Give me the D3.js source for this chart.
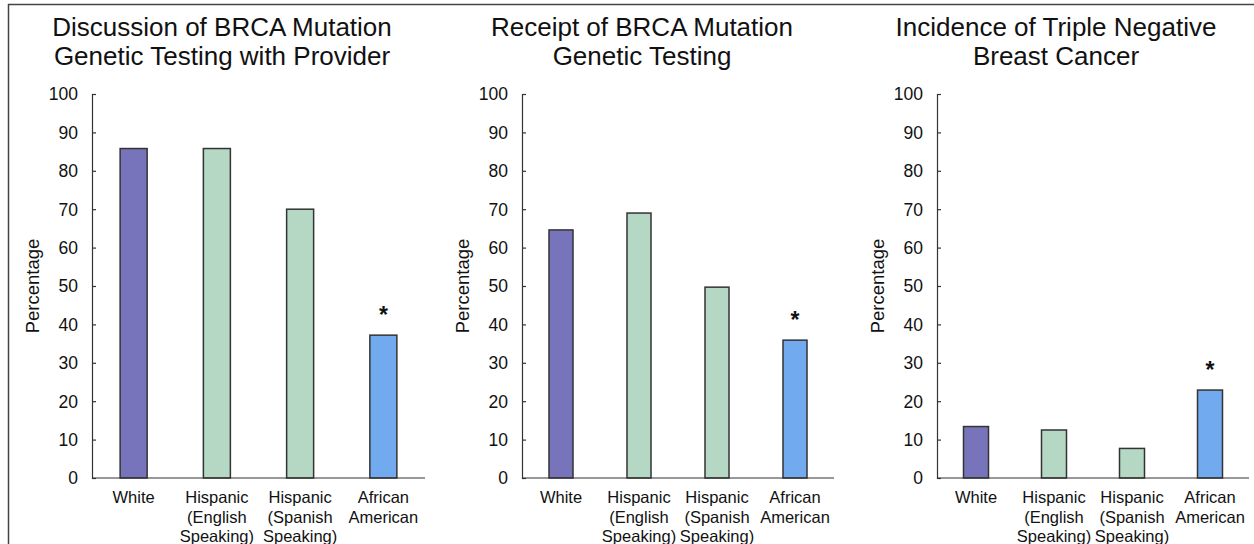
<!DOCTYPE html>
<html>
<head>
<meta charset="utf-8">
<script src="https://cdnjs.cloudflare.com/ajax/libs/d3/7.8.5/d3.min.js"></script>
<style>
  body { margin: 0; background: #fff; }
  svg { display: block; font-family: "Liberation Sans", Arial, sans-serif; }
</style>
</head>
<body>
<svg id="chart" width="1254" height="544"></svg>
<script>
// Data
const groups = ["White", "Hispanic (English Speaking)", "Hispanic (Spanish Speaking)", "African American"];
const groupLines = [["White"], ["Hispanic", "(English", "Speaking)"], ["Hispanic", "(Spanish", "Speaking)"], ["African", "American"]];
const titles = [
  ["Discussion of BRCA Mutation", "Genetic Testing with Provider"],
  ["Receipt of BRCA Mutation", "Genetic Testing"],
  ["Incidence of Triple Negative", "Breast Cancer"]
];
const discussionValues = [85.8, 85.8, 70.0, 37.2];
const receiptValues = [64.6, 69.0, 49.7, 35.9];
const tnbcValues = [13.4, 12.5, 7.7, 22.9];
const significant = [false, false, false, true];
const yTicks = [0, 10, 20, 30, 40, 50, 60, 70, 80, 90, 100];
const colors = ["#7774bb", "#b4d8c4", "#b4d8c4", "#71aaef"];

const panels = [
  { values: discussionValues, x0: 92, x1: 425, barW: 27, titleX: 222 },
  { values: receiptValues, x0: 522, x1: 834, barW: 24, titleX: 642 },
  { values: tnbcValues, x0: 937, x1: 1249, barW: 25, titleX: 1056 }
];

const svg = d3.select("#chart");
const yTop = 94, yBottom = 478;

// frame lines (top and left only, as in the cropped picture)
svg.append("line").attr("x1", 8).attr("x2", 1254).attr("y1", 4.5).attr("y2", 4.5)
  .attr("stroke", "#444").attr("stroke-width", 1.5);
svg.append("line").attr("x1", 8.5).attr("x2", 8.5).attr("y1", 4).attr("y2", 544)
  .attr("stroke", "#444").attr("stroke-width", 1.5);

const y = d3.scaleLinear().domain([0, 100]).range([yBottom, yTop]);

panels.forEach((p, i) => {
  const g = svg.append("g");
  const x = d3.scaleBand().domain(groups).range([p.x0, p.x1]);

  // title
  g.append("text")
    .attr("y", 36)
    .attr("text-anchor", "middle")
    .attr("font-size", 26)
    .attr("fill", "#111")
    .selectAll("tspan")
    .data(titles[i])
    .enter()
    .append("tspan")
    .attr("x", p.titleX)
    .attr("dy", (d, j) => (j === 0 ? 0 : 29))
    .text((d) => d);

  // y axis
  const yAxis = d3.axisRight(y).tickValues(yTicks).tickSize(4).tickFormat("");
  const ya = g.append("g").attr("transform", `translate(${p.x0},0)`).call(yAxis);
  ya.select(".domain").attr("stroke", "#333").attr("stroke-width", 1.2);
  ya.selectAll(".tick line").attr("stroke", "#333").attr("stroke-width", 1.2);

  g.selectAll(".ylabel")
    .data(yTicks)
    .enter()
    .append("text")
    .attr("x", p.x0 - 14)
    .attr("y", (d) => y(d))
    .attr("dy", "0.36em")
    .attr("text-anchor", "end")
    .attr("font-size", 17.5)
    .attr("fill", "#111")
    .text((d) => d);

  g.append("text")
    .attr("transform", `translate(${p.x0 - 53},${(yTop + yBottom) / 2}) rotate(-90)`)
    .attr("text-anchor", "middle")
    .attr("font-size", 18.5)
    .attr("fill", "#111")
    .text("Percentage");

  // bars
  g.selectAll(".bar")
    .data(p.values)
    .enter()
    .append("rect")
    .attr("x", (d, j) => x(groups[j]) + x.bandwidth() / 2 - p.barW / 2)
    .attr("y", (d) => y(d))
    .attr("width", p.barW)
    .attr("height", (d) => yBottom - y(d))
    .attr("fill", (d, j) => colors[j])
    .attr("stroke", "#333")
    .attr("stroke-width", 1.5);

  // significance markers
  g.selectAll(".star")
    .data(p.values.map((v, j) => ({ v, j })).filter((d) => significant[d.j]))
    .enter()
    .append("text")
    .attr("x", (d) => x(groups[d.j]) + x.bandwidth() / 2)
    .attr("y", (d) => y(d.v) - 12)
    .attr("text-anchor", "middle")
    .attr("font-size", 23)
    .attr("font-weight", "bold")
    .attr("fill", "#111")
    .text("*");

  // x axis line
  g.append("line")
    .attr("x1", p.x0).attr("x2", p.x1)
    .attr("y1", yBottom).attr("y2", yBottom)
    .attr("stroke", "#333").attr("stroke-width", 1.2);

  // category labels
  g.selectAll(".xlabel")
    .data(groupLines)
    .enter()
    .append("text")
    .attr("text-anchor", "middle")
    .attr("font-size", 16.5)
    .attr("fill", "#111")
    .each(function (lines, j) {
      const cxb = x(groups[j]) + x.bandwidth() / 2;
      d3.select(this)
        .selectAll("tspan")
        .data(lines)
        .enter()
        .append("tspan")
        .attr("x", cxb)
        .attr("y", (d, k) => 503 + k * 19.5)
        .text((d) => d);
    });
});
</script>
</body>
</html>
